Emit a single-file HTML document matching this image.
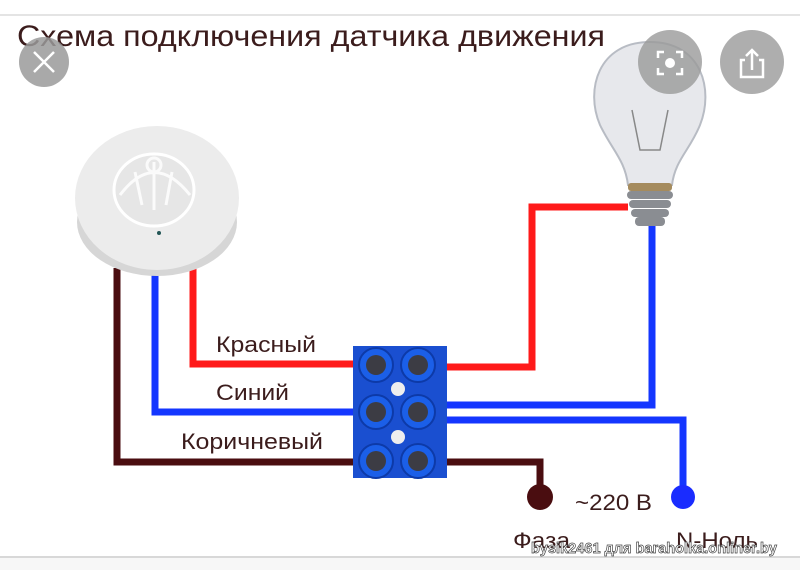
<!DOCTYPE html>
<html><head><meta charset="utf-8"><style>
html,body{margin:0;padding:0;background:#fff;}
svg{display:block;}
text{font-family:"Liberation Sans","DejaVu Sans",sans-serif;}
</style></head><body>
<svg width="800" height="570" viewBox="0 0 800 570" xmlns="http://www.w3.org/2000/svg">
<rect width="800" height="570" fill="#fff"/>
<line x1="0" y1="15" x2="800" y2="15" stroke="#e4e4e4" stroke-width="2"/>
<line x1="0" y1="557" x2="800" y2="557" stroke="#d8d8d8" stroke-width="2"/>
<rect x="0" y="558" width="800" height="12" fill="#f7f7f7"/>
<text x="17" y="46" font-size="30" fill="#3b1c1c" textLength="588" lengthAdjust="spacingAndGlyphs">Схема подключения датчика движения</text>

<!-- wires -->
<g fill="none" stroke-width="7" stroke-linejoin="miter">
<polyline points="117,268 117,462 360,462" stroke="#4a0d10"/>
<polyline points="440,462 540,462 540,495" stroke="#4a0d10"/>
<polyline points="155,270 155,412 360,412" stroke="#1436ff"/>
<polyline points="440,405 652,405 652,225" stroke="#1436ff"/>
<polyline points="440,420 683,420 683,495" stroke="#1436ff"/>
<polyline points="193,268 193,364 360,364" stroke="#ff1a1a"/>
<polyline points="440,367 532,367 532,207 628,207" stroke="#ff1a1a"/>
</g>
<circle cx="540" cy="497" r="13" fill="#4a0d10"/>
<circle cx="683" cy="497" r="12" fill="#1a2cff"/>

<!-- sensor -->
<ellipse cx="157" cy="222" rx="80" ry="54" fill="#d6d6d6"/>
<ellipse cx="157" cy="198" rx="82" ry="72" fill="#ececec"/>
<ellipse cx="154" cy="190" rx="40" ry="36" fill="#e6e6e6" stroke="#fff" stroke-width="3"/>
<path d="M120 195 Q154 150 190 195 M154 162 L154 210 M135 172 L142 205 M172 172 L166 205" stroke="#fbfbfb" stroke-width="3" fill="none"/>
<circle cx="154" cy="165" r="7" fill="none" stroke="#fafafa" stroke-width="3"/>
<circle cx="159" cy="233" r="2" fill="#255"/>

<!-- lamp -->
<path d="M650 42 C598 42 585 90 600 125 C612 150 625 160 628 185 L672 185 C675 160 690 150 700 125 C714 90 702 42 650 42 Z" fill="#e7e8ec" stroke="#b8bcc4" stroke-width="2"/>
<path d="M632 110 L640 150 L660 150 L668 110" stroke="#888" fill="none" stroke-width="1.5"/>
<rect x="628" y="183" width="44" height="8" rx="3" fill="#a58b5e"/>
<g fill="#8a8d92">
<rect x="627" y="191" width="46" height="8" rx="4"/>
<rect x="629" y="200" width="42" height="8" rx="4"/>
<rect x="631" y="209" width="38" height="8" rx="4"/>
<rect x="635" y="217" width="30" height="9" rx="4"/>
</g>

<!-- connector -->
<rect x="353" y="346" width="94" height="132" fill="#1a4fd0"/>
<g fill="#1b5fe8" stroke="#0d3aa8" stroke-width="2">
<circle cx="376" cy="365" r="17"/><circle cx="418" cy="365" r="17"/>
<circle cx="376" cy="412" r="17"/><circle cx="418" cy="412" r="17"/>
<circle cx="376" cy="461" r="17"/><circle cx="418" cy="461" r="17"/>
</g>
<g fill="#3c3c44">
<circle cx="376" cy="365" r="10"/><circle cx="418" cy="365" r="10"/>
<circle cx="376" cy="412" r="10"/><circle cx="418" cy="412" r="10"/>
<circle cx="376" cy="461" r="10"/><circle cx="418" cy="461" r="10"/>
</g>
<circle cx="398" cy="389" r="7" fill="#eee"/>
<circle cx="398" cy="437" r="7" fill="#eee"/>

<g font-size="22" fill="#3b1c1c" lengthAdjust="spacingAndGlyphs">
<text x="216" y="352" textLength="100" lengthAdjust="spacingAndGlyphs">Красный</text>
<text x="216" y="400" textLength="73" lengthAdjust="spacingAndGlyphs">Синий</text>
<text x="181" y="449" textLength="142" lengthAdjust="spacingAndGlyphs">Коричневый</text>
<text x="575" y="510" textLength="77" lengthAdjust="spacingAndGlyphs">~220 B</text>
<text x="513" y="548" textLength="57" lengthAdjust="spacingAndGlyphs">Фаза</text>
<text x="676" y="548" textLength="82" lengthAdjust="spacingAndGlyphs">N-Ноль</text>
</g>
<text x="531" y="553" font-size="15" font-weight="bold" fill="#fff" stroke="#444" stroke-width="0.7" textLength="246" lengthAdjust="spacingAndGlyphs">bysik2461 для baraholka.onliner.by</text>

<!-- overlay buttons -->
<circle cx="44" cy="62" r="25" fill="#9a9a9a" opacity="0.85"/>
<path d="M34 52 L54 72 M54 52 L34 72" stroke="#fff" stroke-width="2.5"/>
<circle cx="670" cy="62" r="32" fill="#9a9a9a" opacity="0.8"/>
<path d="M658 58 v-6 h6 M676 52 h6 v6 M682 68 v6 h-6 M664 74 h-6 v-6" stroke="#fff" stroke-width="2.5" fill="none"/>
<circle cx="670" cy="63" r="5" fill="#fff"/>
<circle cx="752" cy="62" r="32" fill="#9a9a9a" opacity="0.8"/>
<path d="M745 60 h-4 v17 h22 v-17 h-4 M752 70 v-20 M746 56 l6 -6 l6 6" stroke="#fff" stroke-width="2.5" fill="none"/>
</svg>
</body></html>
